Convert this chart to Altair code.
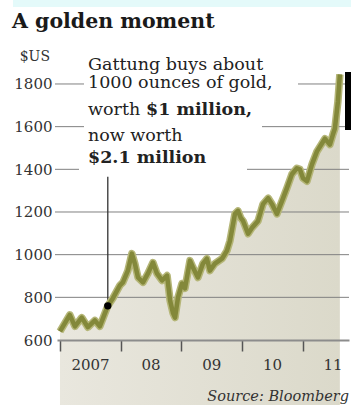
import altair as alt
import pandas as pd

# ---- data ----
dates = [
    "2007-01-01", "2007-03-01", "2007-04-01", "2007-05-12", "2007-06-18", "2007-07-30",
    "2007-08-29", "2007-10-16", "2007-11-15", "2007-12-28", "2008-01-15", "2008-02-14",
    "2008-03-09", "2008-03-27", "2008-04-15", "2008-05-15", "2008-06-14", "2008-07-14",
    "2008-08-07", "2008-09-07", "2008-10-07", "2008-10-25", "2008-11-12", "2008-11-24",
    "2008-12-12", "2009-01-05", "2009-01-23", "2009-02-22", "2009-03-12", "2009-04-11",
    "2009-05-11", "2009-06-04", "2009-06-22", "2009-07-22", "2009-09-03", "2009-10-03",
    "2009-10-21", "2009-11-20", "2009-12-08", "2009-12-25", "2010-01-08", "2010-02-07",
    "2010-03-03", "2010-04-08", "2010-05-08", "2010-06-08", "2010-07-01", "2010-07-31",
    "2010-08-30", "2010-09-29", "2010-10-29", "2010-11-28", "2010-12-16", "2011-01-04",
    "2011-01-28", "2011-02-27", "2011-03-29", "2011-04-28", "2011-05-16", "2011-06-15",
    "2011-07-03", "2011-07-15", "2011-08-02", "2011-08-14",
]
prices = [
    640, 718, 664, 705, 660, 692,
    664, 760, 795, 856, 870, 925,
    1005, 958, 893, 870, 912, 963,
    912, 879, 902, 786, 726, 705,
    800, 865, 842, 972, 940, 893,
    958, 981, 925, 958, 981, 1019,
    1065, 1191, 1205, 1172, 1158, 1098,
    1126, 1158, 1237, 1265, 1237, 1191,
    1251, 1312, 1377, 1405, 1400, 1358,
    1344, 1423, 1484, 1521, 1544, 1516,
    1563, 1591, 1716, 1845,
]
y_ticks = [600, 800, 1000, 1200, 1400, 1600, 1800]
grid_values = [800, 1000, 1200, 1400, 1600, 1800]
tick_years = [2007, 2008, 2009, 2010, 2011]
year_labels = ["2007", "08", "09", "10", "11"]
purchase_date = ["2007-10-16"]
purchase_price = [760]
purchase_top = [1365]

title_text = "A golden moment"
unit_text = "$US"
source_text = "Source: Bloomberg"
note_lines = ["Gattung buys about", "1000 ounces of gold,", "worth ", "$1 million,", "now worth", "$2.1 million"]

df = pd.DataFrame({"date": dates, "price": prices})
buy = pd.DataFrame({"date": purchase_date, "price": purchase_price, "top": purchase_top})
grid = pd.DataFrame({"v": grid_values})

W, H = 292, 278
SERIF = "DejaVu Serif"

label_expr = ""
for yr, lab in zip(tick_years, year_labels):
    label_expr += f"year(datum.value) == {yr} ? '{lab}' : "
label_expr += "''"

xscale = alt.Scale(domain=[alt.DateTime(year=2006, month=12, date=14),
                           alt.DateTime(year=2011, month=10, date=8)])
yscale = alt.Scale(domain=[600, 1903], nice=False, zero=False)

xenc = alt.X("date:T", scale=xscale, axis=alt.Axis(
    values=[alt.DateTime(year=y, month=1, date=1) for y in tick_years],
    labelExpr=label_expr, title=None, grid=False,
    domainColor="#8c8c8c", domainWidth=2.2,
    tickColor="#555", tickWidth=1.5, tickSize=11,
    labelFont=SERIF, labelFontSize=15, labelColor="#333",
    labelOffset=30, labelPadding=6, labelAlign="center", zindex=1))
yenc = alt.Y("price:Q", scale=yscale, axis=alt.Axis(
    values=y_ticks, title=None, grid=False, domain=False, ticks=False, format="d",
    labelFont=SERIF, labelFontSize=15, labelColor="#333", labelPadding=5))

base = alt.Chart(df)

area = base.mark_area(
    color=alt.Gradient(gradient="linear", x1=0, x2=1, y1=0, y2=0,
                       stops=[alt.GradientStop(color="#e9e7de", offset=0),
                              alt.GradientStop(color="#dbd9ca", offset=1)]),
    interpolate="linear"
).encode(x=xenc, y=yenc)

gridlines = alt.Chart(grid).mark_rule(color="#808080", strokeWidth=1).encode(
    y=alt.Y("v:Q", scale=yscale), x=alt.value(-2), x2=alt.value(W))

def mask(x1, x2, y1, y2):
    return alt.Chart(grid).mark_rect(color="white").encode(
        x=alt.value(x1), x2=alt.value(x2), y=alt.value(y1), y2=alt.value(y2))

masks = [mask(27, 241, 14, 30), mask(27, 205, 57, 72), mask(22, 190, 101, 114)]

vrule = alt.Chart(buy).mark_rule(color="#333", strokeWidth=1.3).encode(
    x=alt.X("date:T", scale=xscale),
    y=alt.Y("price:Q", scale=yscale), y2="top:Q")

glow = base.mark_line(color="#b5b678", strokeWidth=7.5, strokeJoin="round").encode(
    x=alt.X("date:T", scale=xscale), y=alt.Y("price:Q", scale=yscale))
line = base.mark_line(color="#83883a", strokeWidth=4.5, strokeJoin="round").encode(
    x=alt.X("date:T", scale=xscale), y=alt.Y("price:Q", scale=yscale))

dot = alt.Chart(buy).mark_circle(color="black", opacity=1, size=55).encode(
    x=alt.X("date:T", scale=xscale), y=alt.Y("price:Q", scale=yscale))

def txt(s, x, y, size=17.5, weight="normal", style="normal", align="left",
        baseline="alphabetic", font=SERIF, color="#222"):
    return alt.Chart(pd.DataFrame({"t": [s]})).mark_text(
        font=font, fontSize=size, fontWeight=weight, fontStyle=style,
        align=align, baseline=baseline, color=color).encode(
        text="t:N", x=alt.value(x), y=alt.value(y))

texts = [
    txt(title_text, -45, -34, size=20.5, weight="bold", color="#1a1a1a"),
    txt(unit_text, -7, -5, size=14, align="right", baseline="middle", color="#333"),
    txt(note_lines[0], 31, 8),
    txt(note_lines[1], 31, 26),
    txt(note_lines[2], 31, 53),
    txt(note_lines[3], 89, 53, weight="bold"),
    txt(note_lines[4], 31, 79),
    txt(note_lines[5], 31, 101, weight="bold"),
    txt(source_text, 292, 339, size=14.5, style="italic", align="right", color="#333"),
]

band = alt.Chart(grid).mark_rect(color="#e4fafa").encode(
    x=alt.value(-44), x2=alt.value(300), y=alt.value(-62), y2=alt.value(-55))
blackbar = alt.Chart(grid).mark_rect(color="black").encode(
    x=alt.value(288), x2=alt.value(300), y=alt.value(10), y2=alt.value(68))

chart = alt.layer(area, gridlines, *masks, vrule, glow, line, dot, *texts, band, blackbar).properties(
    width=W, height=H,
    autosize=alt.AutoSizeParams(type="none"),
    padding={"left": 57, "top": 62, "right": 2, "bottom": 65},
    background="white",
).configure_view(stroke=None)

chart.save("out.html", embed_options={"renderer": "svg", "actions": False})
